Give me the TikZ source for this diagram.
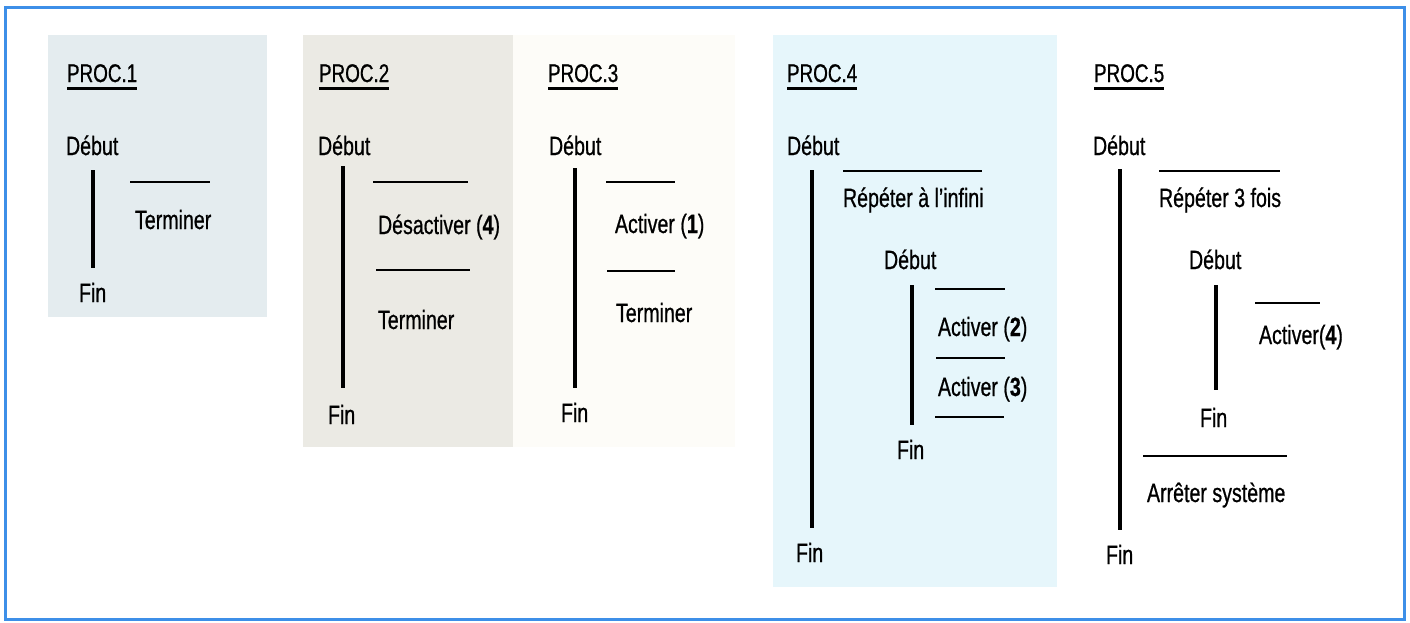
\documentclass[tikz,border=0pt]{standalone}
\usepackage{fontspec}
\setmainfont[FakeStretch=0.74,FakeBold=0.7]{Liberation Sans}
\definecolor{frameblue}{HTML}{3D8FE8}
\definecolor{panelone}{HTML}{E4ECEF}
\definecolor{paneltwo}{HTML}{EBEAE4}
\definecolor{panelthree}{HTML}{FDFCF8}
\definecolor{panelfour}{HTML}{E6F6FB}
\tikzset{
  lbl/.style={anchor=base west, inner sep=0pt, outer sep=0pt, font=\fontsize{26.5}{31}\selectfont},
  title/.style={lbl, font=\fontsize{25.5}{30}\selectfont},
  bar/.style={line width=3.2pt},
  rule/.style={line width=2pt},
  uline/.style={line width=2.2pt},
}
\newcommand{\ulabel}[1]{\draw[uline] ([yshift=-6.5pt]#1.base west) -- ([yshift=-6.5pt]#1.base east);}
\begin{document}
\begin{tikzpicture}[x=1pt,y=-1pt]
\useasboundingbox (0,0) rectangle (1410,622);
\fill[white] (0,0) rectangle (1410,622);
% panels
\fill[panelone] (48,35) rectangle (267,317);
\fill[paneltwo] (303,35) rectangle (513,447);
\fill[panelthree] (513,35) rectangle (735,447);
\fill[panelfour] (773,35) rectangle (1057,587);
% frame
\draw[frameblue, line width=3pt] (5,7) rectangle (1404,619);

% ---------- PROC.1
\node[title] (t1) at (67,82) {PROC.1};
\ulabel{t1}
\node[lbl] (d1) at (66,155) {Début};
\node[lbl] (f1) at (79,302) {Fin};
\draw[bar] (93,170) coordinate (b1s) -- (93,268) coordinate (b1e);
\draw[rule] (130,182) coordinate (r1a) -- (210,182) coordinate (r1b);
\node[lbl] (a1) at (135,229) {Terminer};

% ---------- PROC.2
\node[title] (t2) at (319,82) {PROC.2};
\ulabel{t2}
\node[lbl] (d2) at (318,155) {Début};
\node[lbl] (f2) at (328,424) {Fin};
\draw[bar] (343,166) coordinate (b2s) -- (343,388) coordinate (b2e);
\draw[rule] (373,182) coordinate (r2a) -- (468,182) coordinate (r2b);
\node[lbl] (a2) at (378,234) {Désactiver (\textbf{4})};
\draw[rule] (376,270) coordinate (r2c) -- (470,270) coordinate (r2d);
\node[lbl] (a2b) at (378,329) {Terminer};

% ---------- PROC.3
\node[title] (t3) at (548,82) {PROC.3};
\ulabel{t3}
\node[lbl] (d3) at (549,155) {Début};
\node[lbl] (f3) at (561,422) {Fin};
\draw[bar] (575,168) coordinate (b3s) -- (575,388) coordinate (b3e);
\draw[rule] (606,182) coordinate (r3a) -- (675,182) coordinate (r3b);
\node[lbl] (a3) at (615,233) {Activer (\textbf{1})};
\draw[rule] (607,271) coordinate (r3c) -- (675,271) coordinate (r3d);
\node[lbl] (a3b) at (616,322) {Terminer};

% ---------- PROC.4
\node[title] (t4) at (787,82) {PROC.4};
\ulabel{t4}
\node[lbl] (d4) at (787,155) {Début};
\node[lbl] (f4) at (796,562) {Fin};
\draw[bar] (812,170) coordinate (b4s) -- (812,528) coordinate (b4e);
\draw[rule] (843,171) coordinate (r4a) -- (982,171) coordinate (r4b);
\node[lbl] (rep4) at (843,207) {Répéter à l’infini};
\node[lbl] (d4i) at (884,269) {Début};
\node[lbl] (f4i) at (897,459) {Fin};
\draw[bar] (912,285) coordinate (b4is) -- (912,425) coordinate (b4ie);
\draw[rule] (935,289) coordinate (r4c) -- (1005,289) coordinate (r4d);
\node[lbl] (a4a) at (938,336) {Activer (\textbf{2})};
\draw[rule] (936,358) coordinate (r4e) -- (1005,358) coordinate (r4f);
\node[lbl] (a4b) at (938,396) {Activer (\textbf{3})};
\draw[rule] (935,417) coordinate (r4g) -- (1004,417) coordinate (r4h);

% ---------- PROC.5
\node[title] (t5) at (1094,82) {PROC.5};
\ulabel{t5}
\node[lbl] (d5) at (1093,155) {Début};
\node[lbl] (f5) at (1106,564) {Fin};
\draw[bar] (1120,169) coordinate (b5s) -- (1120,530) coordinate (b5e);
\draw[rule] (1159,171) coordinate (r5a) -- (1280,171) coordinate (r5b);
\node[lbl] (rep5) at (1159,207) {Répéter 3 fois};
\node[lbl] (d5i) at (1189,269) {Début};
\node[lbl] (f5i) at (1200,427) {Fin};
\draw[bar] (1216,285) coordinate (b5is) -- (1216,390) coordinate (b5ie);
\draw[rule] (1255,303) coordinate (r5c) -- (1320,303) coordinate (r5d);
\node[lbl] (a5) at (1259,344) {Activer(\textbf{4})};
\draw[rule] (1143,456) coordinate (r5e) -- (1287,456) coordinate (r5f);
\node[lbl] (a5b) at (1147,502) {Arrêter système};
\end{tikzpicture}
\end{document}
